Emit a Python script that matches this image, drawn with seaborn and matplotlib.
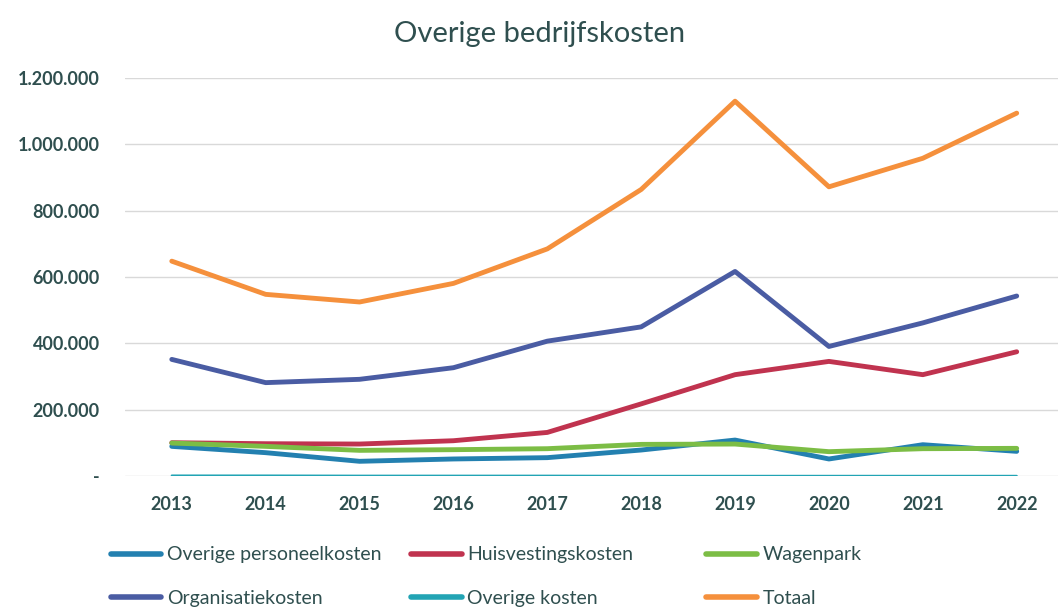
import pandas as pd
import seaborn as sns
import matplotlib.pyplot as plt
from matplotlib.ticker import FuncFormatter

years = [2013, 2014, 2015, 2016, 2017, 2018, 2019, 2020, 2021, 2022]

overige_personeelkosten = [90000, 71000, 45000, 52000, 56000, 79000, 109000, 52000, 95000, 75000]
huisvestingskosten = [101000, 98000, 97000, 107000, 132000, 218000, 306000, 346000, 306000, 375000]
wagenpark = [100000, 90000, 78000, 80000, 83000, 96000, 97000, 74000, 83000, 84000]
organisatiekosten = [352000, 282000, 292000, 327000, 407000, 450000, 617000, 391000, 462000, 543000]
overige_kosten = [2000, 2000, 1500, 1500, 1500, 1000, 1000, 1000, 1000, 1000]
totaal = [648000, 548000, 525000, 581000, 685000, 864000, 1130000, 872000, 958000, 1094000]

series = {
    'Overige personeelkosten': overige_personeelkosten,
    'Huisvestingskosten': huisvestingskosten,
    'Wagenpark': wagenpark,
    'Organisatiekosten': organisatiekosten,
    'Overige kosten': overige_kosten,
    'Totaal': totaal,
}
colors = {
    'Overige personeelkosten': '#2380b0',
    'Huisvestingskosten': '#c0334f',
    'Wagenpark': '#7cbd45',
    'Organisatiekosten': '#4a5ca3',
    'Overige kosten': '#22a4b4',
    'Totaal': '#f5903c',
}
widths = {k: 3.5 for k in series}
widths['Overige kosten'] = 1.6

df = pd.DataFrame([
    {'jaar': y, 'kosten': v, 'post': name}
    for name, vals in series.items() for y, v in zip(years, vals)
])

sns.set_style('white')
plt.rcParams['font.family'] = ['Lato', 'DejaVu Sans']
text_color = '#2f4f4f'

fig = plt.figure(figsize=(10.58, 6.09), dpi=100)
ax = fig.add_axes([0.118, 0.218, 0.882, 0.654])

for name in series:
    sns.lineplot(data=df[df['post'] == name], x='jaar', y='kosten', ax=ax,
                 color=colors[name], linewidth=widths[name], label=name,
                 legend=False)

ax.set_xlim(2012.5, 2022.44)
ax.set_ylim(0, 1200000)
ax.set_yticks(range(0, 1200001, 200000))
ax.set_xticks(years)
ax.yaxis.set_major_formatter(FuncFormatter(
    lambda v, p: '-' if v == 0 else f'{int(v):,}'.replace(',', '.')))
ax.grid(axis='y', color='#d9d9d9', linewidth=1)
for s in ax.spines.values():
    s.set_visible(False)
ax.set_xlabel('')
ax.set_ylabel('')
ax.tick_params(axis='y', pad=18, labelsize=13, colors=text_color, length=0)
ax.tick_params(axis='x', pad=14, labelsize=13, colors=text_color, length=0)
for lbl in ax.get_xticklabels() + ax.get_yticklabels():
    lbl.set_fontweight('bold')

fig.suptitle('Overige bedrijfskosten', x=0.51, y=0.965, fontsize=21, color=text_color)

# legend: three columns placed like the original
handles, labels = ax.get_legend_handles_labels()
columns = [(0, 3, 0.088), (1, 4, 0.372), (2, 5, 0.651)]
for a, b, xpos in columns:
    leg = fig.legend([handles[a], handles[b]], [labels[a], labels[b]],
                     loc='lower left', bbox_to_anchor=(xpos, -0.025),
                     frameon=False, fontsize=14, handlelength=2.6,
                     handletextpad=0.3, labelspacing=1.35,
                     labelcolor=text_color)
    for h in leg.legend_handles:
        h.set_linewidth(4)

fig.savefig('out.png', dpi=100, facecolor='white')
